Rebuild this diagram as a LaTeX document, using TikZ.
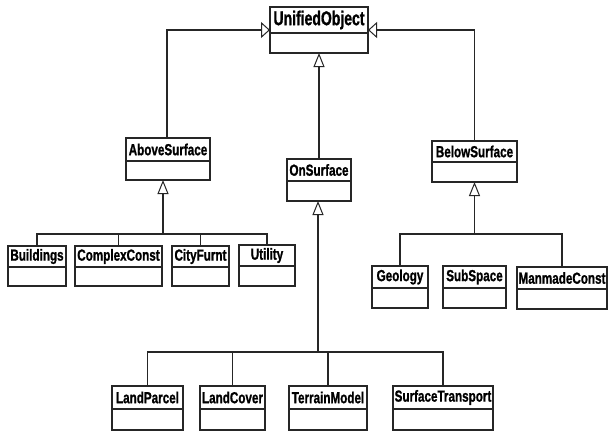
\documentclass[tikz,border=0pt]{standalone}
\usepackage{fontspec}
\setmainfont{Liberation Sans}
\newfontfamily\labelfont[FakeBold=1.2]{Liberation Sans Bold}
\usepackage{graphicx}
\usetikzlibrary{arrows.meta,calc}
\tikzset{
  classbox/.style={draw=black!85, line width=1.6pt, inner sep=0pt, outer sep=0pt, fill=white},
  divline/.style={draw=black!85, line width=1.6pt},
  classlabel/.style={inner sep=0pt, font=\labelfont\fontsize{16}{18}\selectfont},
  biglabel/.style={inner sep=0pt, font=\labelfont\fontsize{20}{22}\selectfont},
  conn/.style={draw=black!85, line width=1.3pt},
  genv/.style={conn, -{Triangle[open, length=14pt, width=11pt, line width=1pt]}},
  genh/.style={conn, -{Triangle[open, length=9pt, width=16pt, line width=1pt]}},
}
% #1 name, #2 x1, #3 y1, #4 x2, #5 y2, #6 ydiv, #7 text, #8 label style, #9 xscale
\newcommand{\umlclass}[9]{%
  \node[classbox, minimum width={#4-#2}, minimum height={#5-#3}] (#1) at ({(#2+#4)/2},{-(#3+#5)/2}) {};
  \draw[divline] (#2,-#6) -- (#4,-#6);
  \node[#8] (#1-t) at ({(#2+#4)/2},{-(#3+#6)/2}) {\scalebox{#9}[1]{#7}};
}
\begin{document}
\begin{tikzpicture}[x=1pt,y=1pt]
\useasboundingbox (0,0) rectangle (608,-432);
\fill[white] (0,0) rectangle (608,-432);

\umlclass{uo}{270}{7}{368}{53}{33}{UnifiedObject}{biglabel}{0.7}

\umlclass{above}{126}{138}{210}{180}{161}{AboveSurface}{classlabel}{0.73}
\umlclass{on}{287}{159}{351}{201}{181}{OnSurface}{classlabel}{0.73}
\umlclass{below}{432}{141}{517}{182}{162}{BelowSurface}{classlabel}{0.73}

\umlclass{bld}{8}{246}{66}{286}{267}{Buildings}{classlabel}{0.73}
\umlclass{cc}{75}{246}{162}{286}{267}{ComplexConst}{classlabel}{0.73}
\umlclass{cf}{172}{246}{229}{286}{267}{CityFurnt}{classlabel}{0.73}
\umlclass{ut}{239}{245}{295}{286}{266}{Utility}{classlabel}{0.73}

\umlclass{geo}{372}{266}{428}{308}{288}{Geology}{classlabel}{0.73}
\umlclass{sub}{443}{266}{506}{308}{288}{SubSpace}{classlabel}{0.73}
\umlclass{mc}{517}{267}{607}{309}{289}{ManmadeConst}{classlabel}{0.73}

\umlclass{lp}{112}{386}{183}{430}{409}{LandParcel}{classlabel}{0.73}
\umlclass{lc}{200}{386}{265}{430}{409}{LandCover}{classlabel}{0.73}
\umlclass{tm}{289}{386}{367}{430}{409}{TerrainModel}{classlabel}{0.73}
\umlclass{st}{393}{386}{493}{430}{409}{SurfaceTransport}{classlabel}{0.73}

% top level generalisations
\draw[genh] ([xshift=-1pt]above.north) |- (uo.west);
\draw[genh] (below.north) |- (uo.east);
\draw[genv] (on.north) -- (on.north |- uo.south);

% AboveSurface hierarchy
\coordinate (abus) at ($(above.south)+(-5,-54)$);
\draw[genv] (abus) -- (abus |- above.south);
\draw[conn] (bld.north) |- (abus) -| (ut.north);
\draw[conn] (cc.north) -- (cc.north |- abus);
\draw[conn] (cf.north) -- (cf.north |- abus);

% OnSurface hierarchy
\coordinate (obus) at ($(on.south)+(-1,-151)$);
\draw[genv] (obus) -- (obus |- on.south);
\draw[conn] (lp.north) |- (obus) -| (st.north);
\draw[conn] (lc.north) -- (lc.north |- obus);
\draw[conn] (tm.north) -- (tm.north |- obus);

% BelowSurface hierarchy
\coordinate (bbus) at ($(below.south)+(0,-52)$);
\draw[genv] (bbus) -- (below.south);
\draw[conn] (geo.north) |- (bbus) -| (mc.north);
\end{tikzpicture}
\end{document}
